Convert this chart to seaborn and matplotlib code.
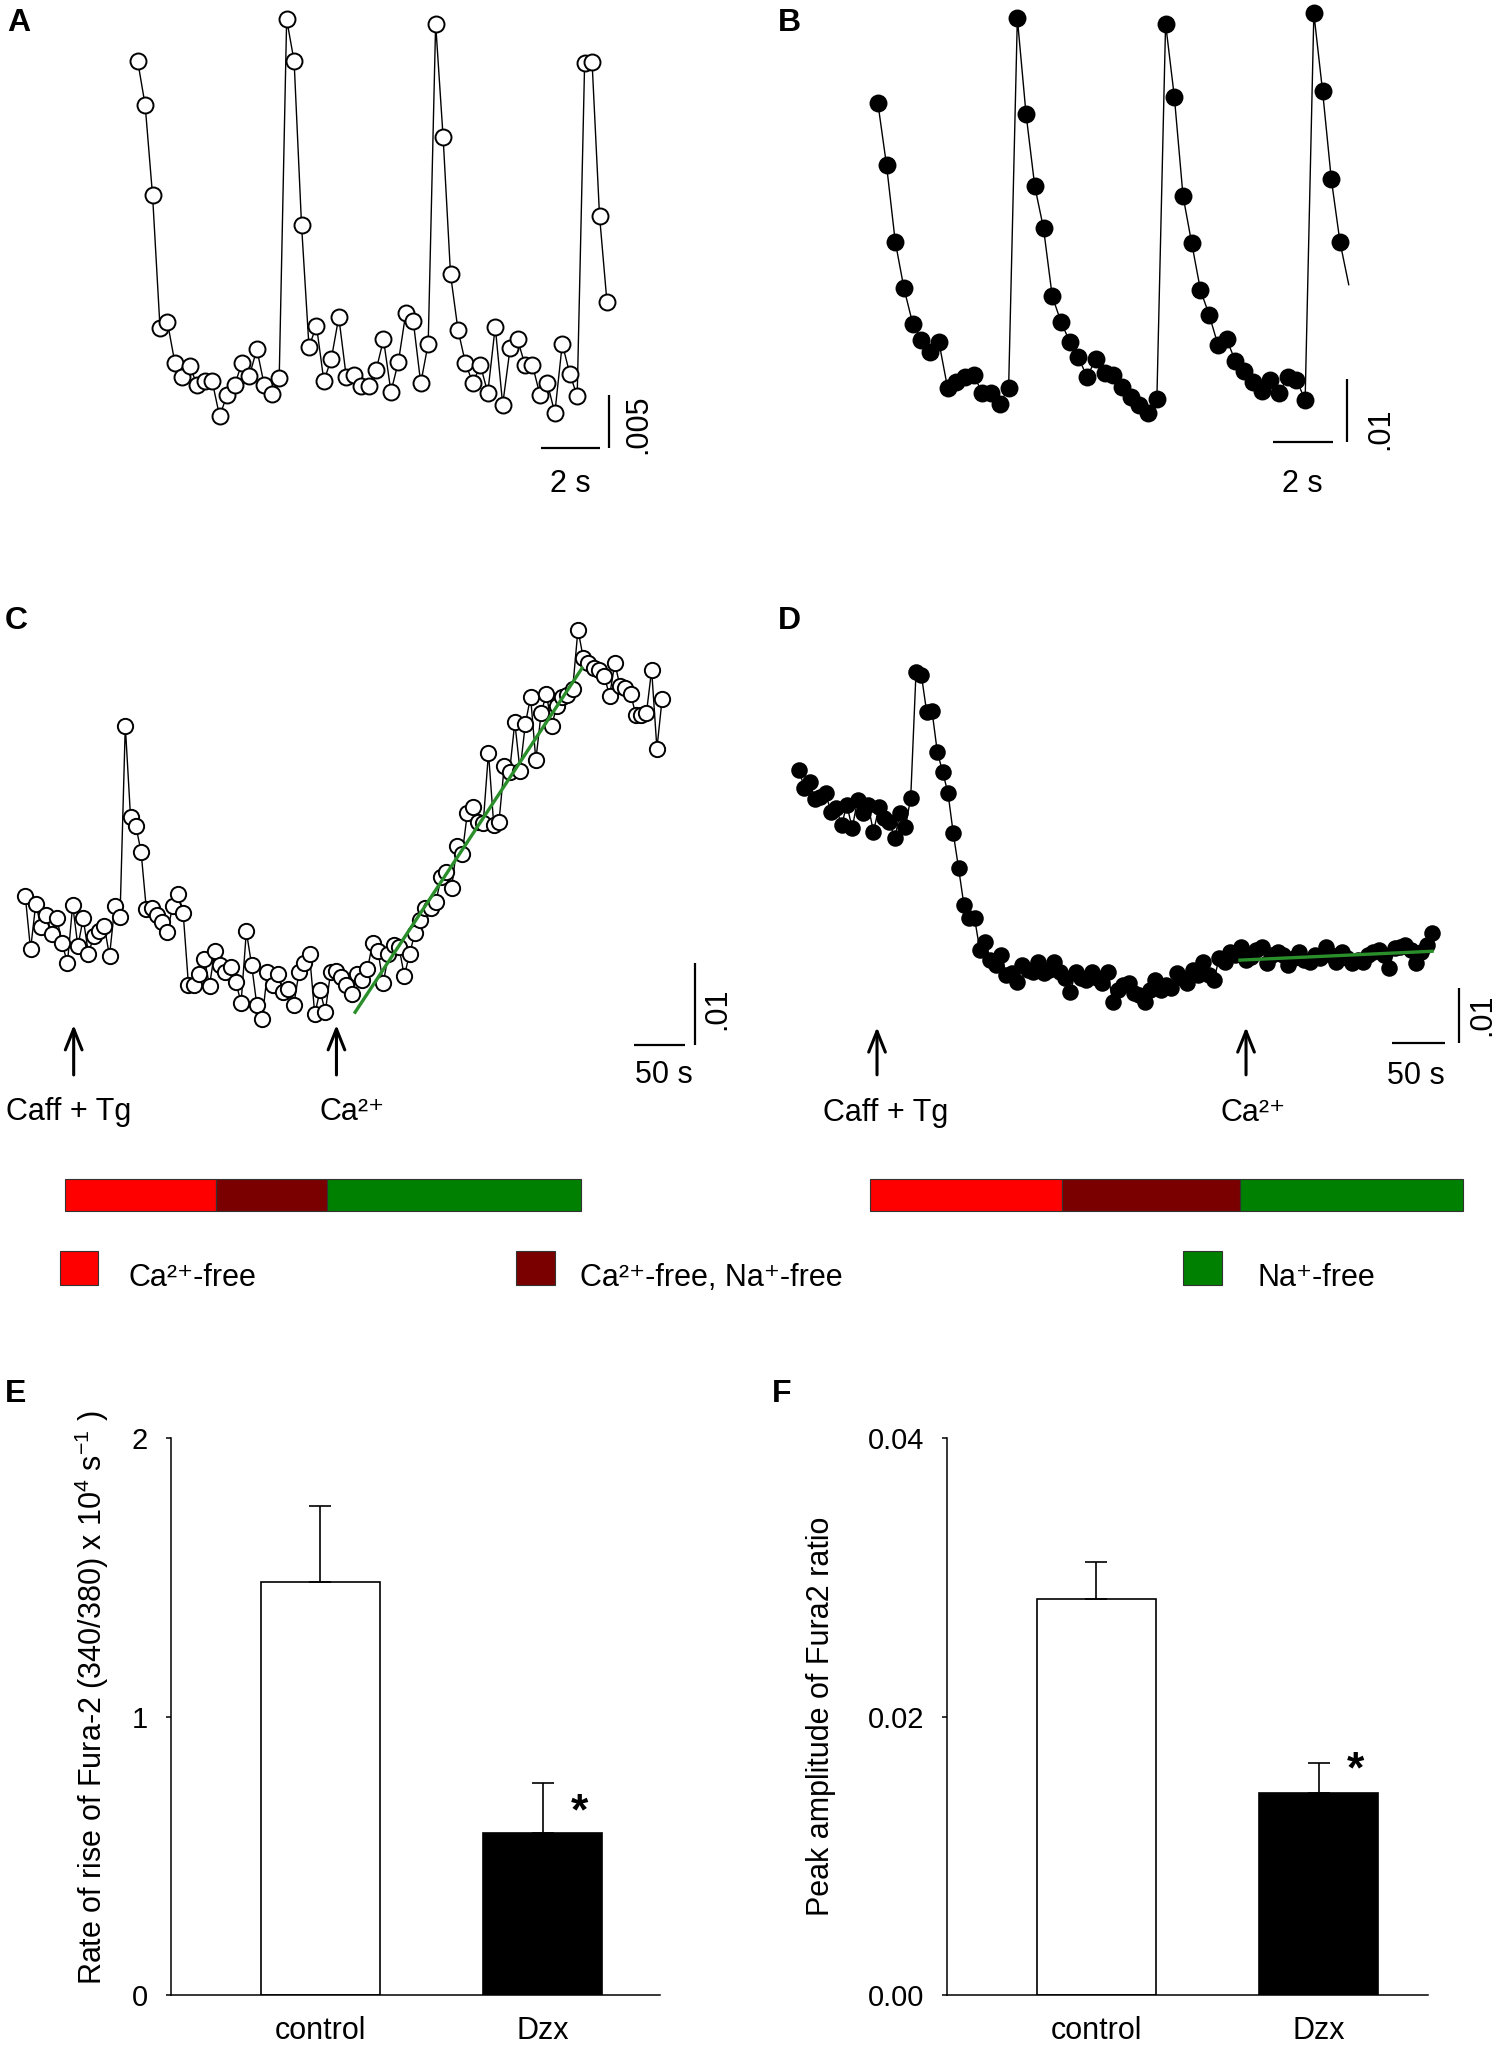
import numpy as np
import pandas as pd
import matplotlib
matplotlib.use('Agg')
import matplotlib.pyplot as plt
from matplotlib.patches import Rectangle
import seaborn as sns

plt.rcParams['font.family'] = ['Liberation Sans', 'DejaVu Sans']
plt.rcParams['mathtext.fontset'] = 'custom'
plt.rcParams['mathtext.rm'] = 'Liberation Sans'
plt.rcParams['mathtext.it'] = 'Liberation Sans:italic'
plt.rcParams['mathtext.bf'] = 'Liberation Sans:bold'

W, H = 1500, 2050   # output size in px (dpi 100)

# ---- traces: Fura-2 ratio change, units of 1e-3 ----
A_DT = 0.25   # s per frame
A_RATIO = [36.3, 32.2, 23.7, 11.3, 11.8, 8.0, 6.7, 7.7, 5.9, 6.3,
           6.3, 3.0, 5.0, 5.9, 8.0, 6.8, 9.3, 5.9, 5.1, 6.6,
           40.2, 36.3, 20.9, 9.5, 11.5, 6.3, 8.4, 12.3, 6.7, 6.9,
           5.8, 5.8, 7.3, 10.2, 5.3, 8.1, 12.7, 11.9, 6.1, 9.8,
           39.8, 29.2, 16.3, 11.1, 8.0, 6.1, 7.8, 5.2, 11.4, 4.1,
           9.4, 10.2, 7.8, 7.8, 5.0, 6.1, 3.3, 9.8, 7.0, 4.9,
           36.1, 36.2, 21.8, 13.7]

B_DT = 0.29
B_RATIO = [55.6, 45.3, 32.7, 25.0, 19.2, 16.5, 14.5, 16.2, 8.6, 9.5,
           10.4, 10.7, 7.7, 7.8, 6.0, 8.6, 69.5, 53.7, 41.8, 34.9,
           23.7, 19.5, 16.2, 13.6, 10.4, 13.4, 11.0, 10.7, 8.8, 7.1,
           5.8, 4.4, 6.8, 68.6, 56.6, 40.2, 32.4, 24.7, 20.6, 15.7,
           16.6, 13.0, 11.4, 9.6, 8.0, 9.9, 7.7, 10.4, 9.9, 6.6,
           70.3, 57.5, 43.0, 32.6, 25.6]
B_N_MARKED = 54   # last sample drawn as line only

C_DT = 5.1
C_RATIO = [15.1, 8.6, 14.2, 11.3, 12.8, 10.5, 12.4, 9.4, 6.9, 14.0,
           9.0, 12.4, 8.1, 10.2, 10.8, 11.5, 7.8, 13.9, 12.6, 35.9,
           24.7, 23.7, 20.5, 13.5, 13.6, 12.8, 12.0, 10.7, 13.9, 15.4,
           13.0, 4.3, 4.3, 5.6, 7.5, 4.2, 8.4, 6.7, 5.8, 6.5,
           4.6, 2.1, 10.8, 6.7, 1.8, 0.1, 5.8, 4.3, 5.6, 3.4,
           3.8, 1.8, 5.8, 6.9, 8.0, 0.7, 3.6, 1.0, 5.8, 6.0,
           5.3, 4.3, 3.2, 5.6, 4.9, 6.2, 9.4, 8.4, 4.5, 8.0,
           9.1, 8.9, 5.4, 8.0, 10.6, 12.2, 13.7, 13.7, 14.4, 17.4,
           18.1, 16.1, 21.2, 20.2, 25.3, 26.0, 24.2, 24.0, 32.6, 23.8,
           24.2, 31.0, 30.2, 36.3, 30.4, 36.1, 39.4, 31.7, 37.4, 39.8,
           35.9, 38.3, 39.4, 39.6, 40.4, 47.6, 44.2, 43.5, 42.9, 42.7,
           42.0, 39.5, 43.5, 40.7, 40.5, 39.8, 37.2, 37.2, 37.4, 42.7,
           33.1, 39.2]
C_FIT_T = [319.6, 539.4]
C_FIT_R = [0.95, 42.9]

D_DT = 5.1
D_RATIO = [42.4, 39.2, 40.3, 37.2, 37.5, 38.3, 34.8, 35.6, 32.5, 36.1,
           31.9, 37.0, 34.7, 36.1, 31.2, 35.7, 33.8, 33.0, 30.1, 34.7,
           32.1, 37.4, 60.1, 59.6, 52.9, 53.1, 45.7, 42.1, 38.3, 31.0,
           24.7, 18.1, 15.7, 15.7, 9.9, 11.4, 8.1, 7.2, 9.0, 5.4,
           5.8, 4.2, 7.2, 6.3, 6.0, 7.8, 5.8, 6.3, 7.8, 6.0,
           4.9, 2.3, 6.0, 4.9, 4.5, 6.0, 4.9, 4.0, 6.0, 0.5,
           2.7, 3.6, 4.0, 2.2, 1.8, 0.5, 2.7, 4.5, 2.7, 3.6,
           3.1, 5.8, 4.9, 4.0, 6.3, 5.4, 7.8, 5.4, 4.5, 8.5,
           7.8, 9.6, 9.0, 10.5, 8.1, 8.7, 9.9, 10.5, 7.6, 9.0,
           9.6, 9.0, 7.2, 8.5, 9.6, 8.1, 7.8, 9.0, 8.5, 10.5,
           9.0, 7.8, 9.6, 8.5, 7.6, 8.1, 7.8, 9.0, 9.6, 9.9,
           9.0, 6.7, 10.3, 10.5, 10.8, 9.9, 7.6, 9.6, 10.8, 13.0]
D_FIT_T = [422.8, 607.0]
D_FIT_R = [8.1, 9.7]

# drug additions (s) and solution protocol boundaries (s)
EVENT_LABELS = ['Caff + Tg', 'Ca²⁺']
C_EVENTS_T = [46.9, 301.5]
D_EVENTS_T = [74.8, 428.6]
SOLUTIONS = ['Ca²⁺-free', 'Ca²⁺-free, Na⁺-free', 'Na⁺-free']
SOLUTION_COLOURS = ['#ff0000', '#7a0000', '#008000']
C_PROTOCOL_T = [38.9, 185.1, 292.2, 538.3]
D_PROTOCOL_T = [68.1, 252.6, 423.2, 637.1]

# ---- summary bars ----
GROUPS = ['control', 'Dzx']
BAR_COLOURS = {'control': 'white', 'Dzx': 'black'}
RISE_MEAN = [1.484, 0.582]
RISE_SEM = [0.272, 0.179]
PEAK_MEAN = [0.02847, 0.01455]
PEAK_SEM = [0.00262, 0.00216]

FS = 22
FIT_GREEN = '#2a8f2a'


def px_axes(fig, x0, y0, x1, y1):
    """Axes placed by pixel box (top-left origin)."""
    return fig.add_axes([x0 / W, 1 - y1 / H, (x1 - x0) / W, (y1 - y0) / H])


def draw_trace(ax, dt, ratio, filled, ms, n_marked=None):
    df = pd.DataFrame({'t': np.arange(len(ratio)) * dt, 'r': ratio})
    kws = dict(marker='o', markersize=ms, markeredgecolor='black', markeredgewidth=1.4,
               markerfacecolor='black' if filled else 'white')
    if n_marked is not None:
        kws['markevery'] = list(range(n_marked))
    sns.lineplot(data=df, x='t', y='r', estimator=None, sort=False,
                 color='black', linewidth=1.0, ax=ax, **kws)


def scale_bar(ax, hx, hy, vx, vy, xlab, xlab_pos, ylab, ylab_pos):
    ax.plot(hx, [hy, hy], color='black', lw=1.6, solid_capstyle='butt')
    ax.plot([vx, vx], vy, color='black', lw=1.6, solid_capstyle='butt')
    ax.text(*xlab_pos, xlab, ha='center', va='baseline', fontsize=FS)
    ax.text(*ylab_pos, ylab, rotation=90, ha='center', va='center', fontsize=FS)


def events(ax, times, tail, head, text_t, text_v):
    for t, tt, lab in zip(times, text_t, EVENT_LABELS):
        ax.annotate('', xy=(t, head), xytext=(t, tail), annotation_clip=False,
                    arrowprops=dict(arrowstyle='->,head_length=0.75,head_width=0.3',
                                    mutation_scale=20, lw=2.2, color='black',
                                    shrinkA=0, shrinkB=0))
        ax.text(tt, text_v, lab, ha='center', va='baseline', fontsize=FS)


def protocol(ax, bounds, v_mid, h):
    b = np.asarray(bounds)
    ax.barh(y=v_mid, width=np.diff(b), left=b[:-1], height=h,
            color=SOLUTION_COLOURS, edgecolor='#333333', linewidth=0.8)


def draw_bars(ax, means, sems, ylim, yticks, fmt, ylabel, label_x, label_y, star_y):
    df = pd.DataFrame({'group': GROUPS, 'value': means})
    sns.barplot(data=df, x='group', y='value', hue='group', palette=BAR_COLOURS,
                edgecolor='black', linewidth=1.2, width=0.534, errorbar=None,
                legend=False, ax=ax)
    ax.errorbar([0, 1], means, yerr=[[0, 0], sems], fmt='none', ecolor='black',
                elinewidth=1.2, capsize=8, capthick=1.2, zorder=1)
    ax.text(1.165, star_y, '*', ha='center', va='center', fontsize=32, fontweight='bold')
    ax.set_ylim(*ylim)
    ax.set_yticks(yticks)
    ax.set_yticklabels([fmt.format(v) for v in yticks])
    ax.set_xlabel('')
    ax.set_ylabel(ylabel, fontsize=22)
    ax.yaxis.set_label_coords(label_x, label_y)
    ax.spines[['top', 'right']].set_visible(False)
    ax.spines[['left', 'bottom']].set_linewidth(1.1)
    ax.tick_params(axis='y', direction='out', length=3.6, width=1.1, labelsize=21, pad=13)
    ax.tick_params(axis='x', length=0, labelsize=22, pad=15)


fig = plt.figure(figsize=(W / 100, H / 100), dpi=100)

# A
ax = px_axes(fig, 0, 0, 750, 560)
draw_trace(ax, A_DT, A_RATIO, filled=False, ms=11.5)
scale_bar(ax, [13.52, 15.52], 0, 15.81, [0, 5], '2 s', (14.53, -4.07), '.005', (16.79, 2.28))
ax.set_xlim(-4.62, 20.55)
ax.set_ylim(-10.47, 42.02)
ax.axis('off')

# B
ax = px_axes(fig, 750, 0, 1500, 560)
draw_trace(ax, B_DT, B_RATIO, filled=True, ms=11.5, n_marked=B_N_MARKED)
scale_bar(ax, [13.13, 15.13], -0.28, 15.60, [-0.28, 10], '2 s', (14.12, -8.5), '.01', (16.71, 1.93))
ax.set_xlim(-4.25, 20.69)
ax.set_ylim(-19.78, 72.52)
ax.axis('off')

# C
ax = px_axes(fig, 0, 600, 750, 1230)
draw_trace(ax, C_DT, C_RATIO, filled=False, ms=11)
sns.lineplot(x=C_FIT_T, y=C_FIT_R, color=FIT_GREEN, linewidth=2.4, ax=ax, zorder=5)
scale_bar(ax, [589.5, 639.6], -3.0, 649, [-3.0, 7.0], '50 s', (618.6, -7.7), '.01', (670.3, 1.4))
events(ax, C_EVENTS_T, tail=-6.7, head=-0.6, text_t=[41.6, 317], text_v=-12.2)
protocol(ax, C_PROTOCOL_T, -21.33, 3.92)
ax.set_xlim(-24.5, 702.2)
ax.set_ylim(-25.61, 51.22)
ax.axis('off')

# D
ax = px_axes(fig, 750, 600, 1500, 1230)
draw_trace(ax, D_DT, D_RATIO, filled=True, ms=10.5)
sns.lineplot(x=D_FIT_T, y=D_FIT_R, color=FIT_GREEN, linewidth=2.4, ax=ax, zorder=5)
scale_bar(ax, [568.5, 618.9], -6.9, 632.8, [-6.9, 3.1], '50 s', (591.6, -14.2), '.01', (655.2, -1.8))
events(ax, D_EVENTS_T, tail=-12.6, head=-4.0, text_t=[83.4, 435.3], text_v=-20.9)
protocol(ax, D_PROTOCOL_T, -34.28, 5.81)
ax.set_xlim(-46.98, 672.1)
ax.set_ylim(-40.61, 73.10)
ax.axis('off')

# solution key
ax = px_axes(fig, 0, 1230, 1500, 1320)
ax.set_xlim(0, 1500)
ax.set_ylim(1320, 1230)
for x_sq, x_txt, lab, col in zip([59.6, 516, 1183], [128, 580, 1258], SOLUTIONS, SOLUTION_COLOURS):
    ax.add_patch(Rectangle((x_sq, 1251), 38.5, 34, facecolor=col, edgecolor='#333333', lw=0.8))
    ax.text(x_txt, 1286, lab, ha='left', va='baseline', fontsize=22)
ax.axis('off')

# E
ax = px_axes(fig, 170.7, 1438.4, 659.6, 1995.2)
draw_bars(ax, RISE_MEAN, RISE_SEM, (0, 2), [0, 1, 2], '{:.0f}',
          r'Rate of rise of Fura-2 (340/380) x 10$^{4}$ s$^{-1}$ )', -0.123, 0.535, 0.655)
ax.set_xlim(-0.673, 1.525)

# F
ax = px_axes(fig, 947, 1438.4, 1427.9, 1995.2)
draw_bars(ax, PEAK_MEAN, PEAK_SEM, (0, 0.04), [0, 0.02, 0.04], '{:.2f}',
          'Peak amplitude of Fura2 ratio', -0.230, 0.5, 0.0161)
ax.set_xlim(-0.671, 1.491)

# panel letters
for lab, x, y in [('A', 7, 31), ('B', 778, 31), ('C', 5, 629), ('D', 778, 629),
                  ('E', 5, 1402), ('F', 772, 1402)]:
    fig.text(x / W, 1 - y / H, lab, ha='left', va='baseline', fontsize=23, fontweight='bold')

fig.savefig('out.png', dpi=100)
